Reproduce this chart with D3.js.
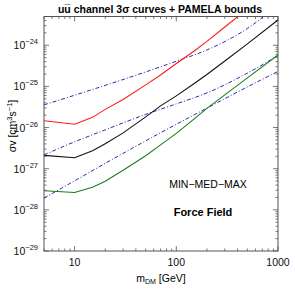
<!DOCTYPE html>
<meta charset="utf-8">
<style>
body { margin: 0; background: #fff; }
svg { font-family: 'Liberation Sans', Arial, sans-serif; }
.frame { fill: none; stroke: #555; stroke-width: 1; }
.tick line { stroke: #555; stroke-width: 0.8; }
.lbl { font-size: 10.5px; fill: #111; }
.curve { fill: none; stroke-width: 1.1; }
.pamela { fill: none; stroke: #2b2ba8; stroke-width: 1; stroke-dasharray: 4,2,1,2; }
</style>
<body>
<svg id="chart" width="295" height="295"></svg>
<script src="https://d3js.org/d3.v7.min.js"></script>
<script>

// 3 sigma curves (MIN, MED, MAX) for the u ubar channel
var masses = [5, 10, 15, 20, 30, 50, 70, 100, 150, 200, 300, 500, 1000];
var svMax = [1.46e-26, 1.20e-26, 1.77e-26, 2.77e-26, 4.83e-26, 1.09e-25, 1.90e-25, 3.61e-25, 7.27e-25, 1.24e-24, 2.78e-24, 7.6e-24, 3.0e-23];
var svMed = [2.11e-27, 1.84e-27, 2.72e-27, 4.02e-27, 7.43e-27, 1.82e-26, 3.37e-26, 5.88e-26, 1.18e-25, 1.95e-25, 4.15e-25, 1.08e-24, 4.11e-24];
var svMin = [2.91e-28, 2.64e-28, 3.54e-28, 4.95e-28, 9.14e-28, 2.06e-27, 3.80e-27, 7.23e-27, 1.62e-26, 2.92e-26, 6.22e-26, 1.61e-25, 5.81e-25];

// PAMELA bounds
var pamelaMasses = [5, 10, 20, 50, 100, 200, 500, 1000];
var pamelaUpper = [3.56e-26, 6.11e-26, 1.06e-25, 2.25e-25, 4.09e-25, 7.69e-25, 2.56e-24, 9.5e-24];
var pamelaMid = [2.17e-27, 4.50e-27, 8.79e-27, 2.09e-26, 3.76e-26, 6.95e-26, 2.10e-25, 5.6e-25];
var pamelaLow = [1.93e-28, 5.08e-28, 1.35e-27, 4.75e-27, 1.20e-26, 2.96e-26, 9.73e-26, 2.31e-25];

var xTickLabels = ["10", "100", "1000"];
var yExponents = ["\u221224", "\u221225", "\u221226", "\u221227", "\u221228", "\u221229"];

var margin = {top: 16.5, right: 17, bottom: 44, left: 44};
var width = 295 - margin.left - margin.right,
    height = 295 - margin.top - margin.bottom;

var svg = d3.select("#chart");
var g = svg.append("g")
    .attr("transform", "translate(" + margin.left + "," + margin.top + ")");

var x = d3.scaleLog().domain([5, 1000]).range([0, width]);
var y = d3.scaleLog().domain([1e-29, 5e-24]).range([height, 0]);

g.append("defs").append("clipPath").attr("id", "clip")
  .append("rect").attr("width", width).attr("height", height);

function isMajor(v) {
  var l = Math.log10(v);
  return Math.abs(l - Math.round(l)) < 1e-6;
}

// ticks on all four sides, pointing inwards
var xt = x.ticks();
var yt = y.ticks();

var ticks = g.append("g").attr("class", "tick");
xt.forEach(function(t) {
  var len = isMajor(t) ? 5 : 2.5;
  ticks.append("line").attr("x1", x(t)).attr("x2", x(t)).attr("y1", height).attr("y2", height - len);
  ticks.append("line").attr("x1", x(t)).attr("x2", x(t)).attr("y1", 0).attr("y2", len);
});
yt.forEach(function(t) {
  var len = isMajor(t) ? 5 : 2.5;
  ticks.append("line").attr("y1", y(t)).attr("y2", y(t)).attr("x1", 0).attr("x2", len);
  ticks.append("line").attr("y1", y(t)).attr("y2", y(t)).attr("x1", width).attr("x2", width - len);
});

// tick labels
var xMajors = xt.filter(isMajor);
g.selectAll(".xlab")
  .data(xMajors)
  .enter().append("text")
    .attr("class", "lbl")
    .attr("x", function(d) { return x(d); })
    .attr("y", height + 15)
    .attr("text-anchor", "middle")
    .text(function(d, i) { return xTickLabels[i]; });

var yMajors = yt.filter(isMajor).sort(function(a, b) { return b - a; });
yMajors.forEach(function(d, i) {
  var t = g.append("text")
    .attr("class", "lbl")
    .attr("x", -6)
    .attr("y", y(d) + 4)
    .attr("text-anchor", "end");
  t.append("tspan").text("10");
  t.append("tspan").attr("dy", -5).style("font-size", "7.5px").text(yExponents[i]);
});

// curves
var line = d3.line()
  .x(function(d) { return x(d[0]); })
  .y(function(d) { return y(d[1]); });

var smooth = d3.line()
  .x(function(d) { return x(d[0]); })
  .y(function(d) { return y(d[1]); })
  .curve(d3.curveMonotoneX);

var plot = g.append("g").attr("clip-path", "url(#clip)");

[pamelaUpper, pamelaMid, pamelaLow].forEach(function(s) {
  plot.append("path")
    .attr("class", "pamela")
    .attr("d", smooth(d3.zip(pamelaMasses, s)));
});

var series = [
  {vals: svMax, color: "#ff1a1a"},
  {vals: svMed, color: "#111111"},
  {vals: svMin, color: "#1e7d1e"}
];
series.forEach(function(s) {
  plot.append("path")
    .attr("class", "curve")
    .attr("stroke", s.color)
    .attr("d", line(d3.zip(masses, s.vals)));
});

g.append("rect").attr("class", "frame").attr("width", width).attr("height", height);

// texts
svg.append("text")
  .attr("x", 160).attr("y", 13)
  .attr("text-anchor", "middle")
  .style("font-size", "10.5px").style("font-weight", "bold")
  .text("uu\u0305 channel 3\u03c3 curves + PAMELA bounds");

var yl = svg.append("text")
  .attr("transform", "translate(16,126) rotate(-90)")
  .attr("text-anchor", "middle")
  .style("font-size", "10.5px");
yl.append("tspan").text("\u03c3v [cm");
yl.append("tspan").attr("dy", -4).style("font-size", "7.5px").text("3");
yl.append("tspan").attr("dy", 4).text("s");
yl.append("tspan").attr("dy", -4).style("font-size", "7.5px").text("\u22121");
yl.append("tspan").attr("dy", 4).text("]");

var xl = svg.append("text")
  .attr("x", 161).attr("y", 282)
  .attr("text-anchor", "middle")
  .style("font-size", "10.5px");
xl.append("tspan").text("m");
xl.append("tspan").attr("dy", 2).style("font-size", "7px").text("DM");
xl.append("tspan").attr("dy", -2).text(" [GeV]");

svg.append("text")
  .attr("x", 208).attr("y", 188)
  .attr("text-anchor", "middle")
  .style("font-size", "10.5px")
  .text("MIN\u2212MED\u2212MAX");

svg.append("text")
  .attr("x", 203).attr("y", 216)
  .attr("text-anchor", "middle")
  .style("font-size", "11px").style("font-weight", "bold")
  .text("Force Field");

</script>
</body>
